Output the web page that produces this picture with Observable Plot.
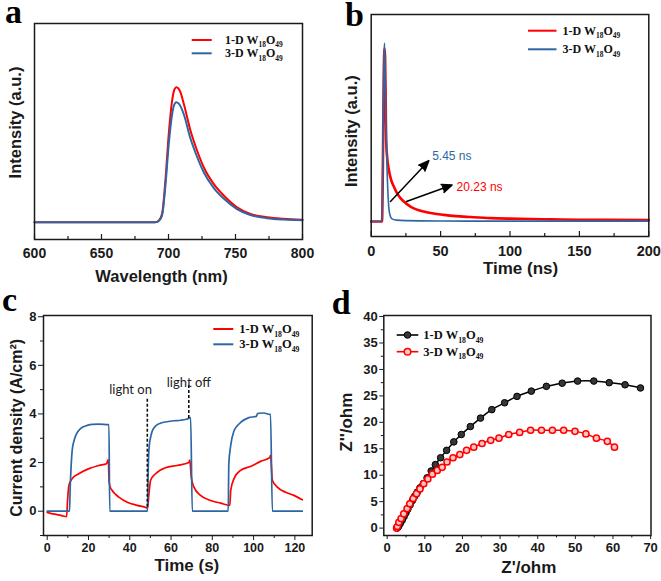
<!DOCTYPE html>
<html><head><meta charset="utf-8">
<script src="https://cdn.jsdelivr.net/npm/d3@7"></script>
<script src="https://cdn.jsdelivr.net/npm/@observablehq/plot@0.6"></script>
<style>
body{margin:0;background:#fff;}
#fig{position:relative;width:661px;height:581px;overflow:hidden;background:#fff;}
.panel{position:absolute;}
.panel svg{overflow:visible;display:block;}
</style></head><body><div id="fig"></div>
<script>
// ---------- (a) Photoluminescence spectra ----------
const wavelengths = [600, 690, 691.5, 693, 695.2, 697.7, 700.2, 702.7, 704.5, 705.9, 707.5, 708.9, 711.4, 716.4, 721.3, 726.3, 733.7, 741.2, 751.1, 761.1, 773.5, 785.9, 800];
const pl1D = [0, 0, 0.003, 0.015, 0.062, 0.31, 0.655, 0.90, 0.985, 1.0, 0.99, 0.963, 0.877, 0.679, 0.531, 0.407, 0.284, 0.198, 0.111, 0.062, 0.037, 0.025, 0.018];
const pl3D = [0, 0, 0.003, 0.012, 0.05, 0.27, 0.58, 0.80, 0.875, 0.889, 0.88, 0.86, 0.80, 0.62, 0.485, 0.37, 0.255, 0.175, 0.097, 0.053, 0.03, 0.02, 0.015];
const aTicksMajor = [600, 650, 700, 750, 800];
const aTicksMinor = [625, 675, 725, 775];

// ---------- (b) Time-resolved PL decay ----------
const trTime1D = [0, 7.8, 8.4, 9.0, 9.6, 10.0, 10.4, 10.8, 11.5, 12.7, 14.3, 16.3, 18.5, 21.1, 24.5, 28.3, 32.5, 37.9, 44, 52.3, 61, 71.5, 86, 100, 114.8, 130, 150, 170, 200];
const trInt1D = [0, 0, 0.3, 0.8, 0.97, 0.92, 0.7, 0.45, 0.36, 0.29, 0.235, 0.196, 0.16, 0.131, 0.105, 0.084, 0.068, 0.056, 0.046, 0.037, 0.03, 0.025, 0.019, 0.016, 0.014, 0.012, 0.01, 0.009, 0.008];
const trTime3D = [0, 7.6, 8.0, 8.6, 9.2, 9.6, 10.2, 10.8, 11.4, 12.0, 12.8, 13.8, 15, 18, 25, 50, 100, 150, 200];
const trInt3D = [0, 0, 0.1, 0.55, 0.92, 1.0, 0.75, 0.5, 0.3, 0.17, 0.07, 0.03, 0.015, 0.008, 0.005, 0.003, 0.002, 0.002, 0.002];
const bTicksMajor = [0, 50, 100, 150, 200];
const bTicksMinor = [25, 75, 125, 175];
const lifetimeLabels = ["5.45 ns", "20.23 ns"];
const lifetimeArrowFromT = [13.9, 25.4];
const lifetimeArrowFromI = [0.112, 0.112];
const lifetimeArrowToT = [41.5, 58.3];
const lifetimeArrowToI = [0.341, 0.205];
const lifetimeLabelT = [43.9, 61.5];
const lifetimeLabelI = [0.366, 0.195];

// ---------- (c) Photocurrent response ----------
const pcTime1D = [0, 2, 4.8, 7, 9.4, 9.9, 10.5, 12.1, 15.3, 20.2, 25.0, 28.7, 29.6, 30.0, 30.5, 31.5, 33, 34.7, 38.8, 43.6, 48.1, 48.6, 49.3, 50.1, 52.5, 57.3, 63.0, 68.6, 69.1, 69.8, 71.1, 74.3, 79.2, 84.0, 88.5, 88.9, 90.5, 93.7, 98.5, 103.4, 107.8, 108.2, 109.1, 111.5, 115.5, 119.5, 123.6];
const pcCur1D = [-0.05, -0.1, -0.14, -0.18, -0.22, 0.5, 1.06, 1.34, 1.54, 1.75, 1.88, 1.95, 2.12, 1.2, 1.0, 0.85, 0.7, 0.58, 0.37, 0.24, 0.14, 0.12, 0.72, 1.27, 1.54, 1.79, 1.88, 2.0, 2.1, 1.4, 0.99, 0.65, 0.44, 0.33, 0.24, 0.85, 1.34, 1.68, 1.84, 2.05, 2.2, 2.3, 1.27, 0.99, 0.78, 0.65, 0.47];
const pcTime3D = [0, 10.8, 11.1, 11.5, 12.1, 13.0, 14.0, 16.1, 19.4, 22, 25.0, 29.6, 29.9, 30.3, 48.6, 48.9, 49.3, 50.0, 50.9, 52.5, 54.9, 58, 61.4, 64.6, 67, 68.8, 69.5, 70.3, 87.7, 88.0, 88.9, 90.5, 92, 93.7, 97.7, 101.3, 101.8, 102.4, 105.0, 107.8, 108.2, 109.1, 123.6];
const pcCur3D = [0, 0, 0.9, 1.7, 2.5, 2.9, 3.15, 3.40, 3.53, 3.57, 3.58, 3.56, 3.56, 0, 0, 1.5, 2.55, 3.0, 3.30, 3.5, 3.62, 3.68, 3.72, 3.74, 3.77, 3.82, 3.85, 0, 0, 1.95, 2.7, 3.3, 3.5, 3.65, 3.85, 3.9, 4.0, 4.03, 4.04, 3.98, 3.98, 0, 0];
const cXTicksMajor = [0, 20, 40, 60, 80, 100, 120];
const cXTicksMinor = [10, 30, 50, 70, 90, 110];
const cYTicksMajor = [0, 2, 4, 6, 8];
const cYTicksMinor = [-1, 1, 3, 5, 7];
const lightLabels = ["light on", "light off"];
const lightTime = [48.5, 68.6];
const lightFrom = [0.16, 3.81];
const lightTo = [4.63, 5.18];
const lightLabelTime = [40.4, 68.6];
const lightLabelCur = [4.98, 5.3];

// ---------- (d) Nyquist plots ----------
const zRe1D = [2.6, 2.8, 3.1, 3.5, 4.0, 4.5, 5.0, 5.5, 6.1, 6.7, 7.3, 8.0, 8.7, 9.6, 10.6, 11.7, 12.8, 14.2, 15.8, 17.7, 19.7, 22.1, 24.8, 27.8, 31.2, 34.5, 38.3, 42.3, 46.5, 50.6, 54.9, 59.0, 63.2, 67.3];
const zIm1D = [0, 0.1, 0.4, 0.9, 1.5, 2.2, 2.9, 3.6, 4.4, 5.2, 6.0, 6.8, 7.6, 8.4, 9.5, 10.8, 12.0, 13.3, 14.7, 16.3, 17.7, 19.2, 20.8, 22.4, 23.7, 24.9, 25.9, 26.8, 27.4, 27.8, 27.8, 27.5, 27.1, 26.5];
const zRe3D = [2.5, 2.7, 3.1, 3.7, 4.4, 5.3, 6.0, 6.9, 7.8, 8.7, 9.7, 10.8, 12.0, 13.3, 14.6, 15.9, 17.5, 19.3, 21.1, 23.0, 25.2, 27.5, 29.7, 32.3, 35.2, 38.1, 41.0, 43.9, 46.9, 49.9, 52.8, 55.6, 58.5, 60.4];
const zIm3D = [0, 0.3, 1.1, 1.8, 2.7, 3.7, 4.6, 5.6, 6.5, 7.4, 8.4, 9.3, 10.2, 10.9, 11.5, 12.5, 13.3, 13.9, 14.7, 15.3, 16.0, 16.6, 17.0, 17.7, 18.1, 18.5, 18.5, 18.5, 18.5, 18.3, 17.8, 17.0, 16.4, 15.3];
const dXTicksMajor = [0, 10, 20, 30, 40, 50, 60, 70];
const dXTicksMinor = [5, 15, 25, 35, 45, 55, 65];
const dYTicksMajor = [0, 5, 10, 15, 20, 25, 30, 35, 40];
const dYTicksMinor = [2.5, 7.5, 12.5, 17.5, 22.5, 27.5, 32.5, 37.5];

const seriesNames = ["1-D", "3-D"];
const formulaParts = ["W", "18", "O", "49"];

// ---------- styling ----------
const RED = "#ff0000", BLUE = "#2c67a5", INK = "#1a1a1a";
const SANS = "'Liberation Sans', Arial, sans-serif";
const SERIF = "'Liberation Serif', 'Times New Roman', serif";
const style = () => ({fontFamily: SANS, fontWeight: "bold", color: INK, background: "transparent", overflow: "visible"});

const fig = document.getElementById("fig");
function place(svg, left, top) {
  const d = document.createElement("div");
  d.className = "panel"; d.style.left = left + "px"; d.style.top = top + "px";
  d.appendChild(svg); fig.appendChild(d);
}
function letter(svg, ch, x, y) {
  d3.select(svg).append("text").attr("x", x).attr("y", y).attr("text-anchor", "start")
    .attr("font-family", SERIF).attr("font-weight", "bold").attr("font-size", 34).attr("fill", "#000").text(ch);
}
function legend(svg, items, x1, x2, tx, fs) {
  const g = d3.select(svg).append("g").attr("text-anchor", "start");
  items.forEach(it => {
    g.append("line").attr("x1", x1).attr("x2", x2).attr("y1", it.y).attr("y2", it.y)
      .attr("stroke", it.color).attr("stroke-width", it.width || 2);
    if (it.dot) {
      g.append("circle").attr("cx", (x1 + x2) / 2).attr("cy", it.y).attr("r", 3.3)
        .attr("fill", it.dot.fill).attr("stroke", it.dot.stroke).attr("stroke-width", it.dot.sw);
    }
    const t = g.append("text").attr("x", tx).attr("y", it.y + fs * 0.33).attr("text-anchor", "start")
      .attr("font-family", SERIF).attr("font-weight", "bold").attr("font-size", fs).attr("fill", "#111");
    t.append("tspan").text(it.name + " " + formulaParts[0]);
    t.append("tspan").attr("font-size", fs * 0.62).attr("dy", fs * 0.28).text(formulaParts[1]);
    t.append("tspan").attr("dy", -fs * 0.28).text(formulaParts[2]);
    t.append("tspan").attr("font-size", fs * 0.62).attr("dy", fs * 0.28).text(formulaParts[3]);
  });
}

// ---------- panel a ----------
{
  const data = wavelengths.map((w, i) => ({w, a: pl1D[i], b: pl3D[i]}));
  const W = 330, H = 290, m = {l: 34, r: 28, t: 23, b: 51};
  const fh = H - m.t - m.b;
  const svg = Plot.plot({
    width: W, height: H, marginLeft: m.l, marginRight: m.r, marginTop: m.t, marginBottom: m.b,
    style: style(),
    x: {domain: [600, 800], label: null},
    y: {domain: [-0.128, 1.472], axis: null, label: null},
    marks: [
      Plot.line(data, {x: "w", y: "a", stroke: RED, strokeWidth: 2, curve: "monotone-x"}),
      Plot.line(data, {x: "w", y: "b", stroke: BLUE, strokeWidth: 2, curve: "monotone-x"}),
      Plot.tickX(aTicksMajor, {x: d => d, insetTop: fh - 5, stroke: INK, strokeWidth: 1.2}),
      Plot.tickX(aTicksMinor, {x: d => d, insetTop: fh - 3, stroke: INK, strokeWidth: 1.2}),
      Plot.axisX(aTicksMajor, {tickSize: 0, tickPadding: 9, fontSize: 14, label: null}),
      Plot.frame({stroke: INK, strokeWidth: 1.5}),
      Plot.text(["Wavelength (nm)"], {frameAnchor: "bottom", dy: 42, dx: -7, fontSize: 16.5, fontWeight: "bold", fill: INK}),
      Plot.text(["Intensity (a.u.)"], {frameAnchor: "left", textAnchor: "middle", rotate: -90, dx: -19, dy: -9, fontSize: 16.5, fontWeight: "bold", fill: INK})
    ]
  });
  letter(svg, "a", 5, 23);
  legend(svg, [{name: seriesNames[0], color: RED, y: 40}, {name: seriesNames[1], color: BLUE, y: 53.3}], 191.7, 211.7, 225, 12);
  place(svg, 0, 0);
}

// ---------- panel b ----------
{
  const d1 = trTime1D.map((t, i) => ({t, v: trInt1D[i]}));
  const d3D = trTime3D.map((t, i) => ({t, v: trInt3D[i]}));
  const arrows = lifetimeLabels.map((s, i) => ({s, x1: lifetimeArrowFromT[i], y1: lifetimeArrowFromI[i], x2: lifetimeArrowToT[i], y2: lifetimeArrowToI[i], lx: lifetimeLabelT[i], ly: lifetimeLabelI[i], c: i === 0 ? BLUE : RED}));
  const W = 331, H = 290, m = {l: 40.7, r: 12.7, t: 14, b: 54};
  const fh = H - m.t - m.b;
  const svg = Plot.plot({
    width: W, height: H, marginLeft: m.l, marginRight: m.r, marginTop: m.t, marginBottom: m.b,
    style: style(),
    x: {domain: [0, 200], label: null},
    y: {domain: [-0.084, 1.16], axis: null, label: null},
    marks: [
      Plot.line(d1, {x: "t", y: "v", stroke: RED, strokeWidth: 2.6, curve: "monotone-x"}),
      Plot.line(d3D, {x: "t", y: "v", stroke: BLUE, strokeWidth: 1.6, curve: "monotone-x"}),
      Plot.arrow(arrows, {x1: "x1", y1: "y1", x2: "x2", y2: "y2", stroke: "#000", fill: "#000", strokeWidth: 1.5, headLength: 11, headAngle: 45}),
      Plot.text(arrows, {x: "lx", y: "ly", text: "s", fill: "c", textAnchor: "start", fontSize: 12, fontWeight: "normal"}),
      Plot.tickX(bTicksMajor, {x: d => d, insetTop: fh - 5, stroke: INK, strokeWidth: 1.2}),
      Plot.tickX(bTicksMinor, {x: d => d, insetTop: fh - 3, stroke: INK, strokeWidth: 1.2}),
      Plot.axisX(bTicksMajor, {tickSize: 0, tickPadding: 9, fontSize: 14.5, label: null}),
      Plot.frame({stroke: INK, strokeWidth: 1.5}),
      Plot.text(["Time (ns)"], {frameAnchor: "bottom", dy: 37.5, dx: 10.5, fontSize: 17, fontWeight: "bold", fill: INK}),
      Plot.text(["Intensity (a.u.)"], {frameAnchor: "left", textAnchor: "middle", rotate: -90, dx: -19, dy: 5.7, fontSize: 16.5, fontWeight: "bold", fill: INK})
    ]
  });
  letter(svg, "b", 15, 26);
  legend(svg, [{name: seriesNames[0], color: RED, y: 30.7}, {name: seriesNames[1], color: BLUE, y: 49.3}], 198, 226.5, 232.5, 12);
  place(svg, 330, 0);
}

// ---------- panel c ----------
{
  const r = pcTime1D.map((t, i) => ({t, v: pcCur1D[i]}));
  const b = pcTime3D.map((t, i) => ({t, v: pcCur3D[i]}));
  const lights = lightLabels.map((s, i) => ({s, x: lightTime[i], y1: lightFrom[i], y2: lightTo[i], lx: lightLabelTime[i], ly: lightLabelCur[i]}));
  const W = 330, H = 291, m = {l: 43, r: 18.3, t: 25, b: 46};
  const svg = Plot.plot({
    width: W, height: H, marginLeft: m.l, marginRight: m.r, marginTop: m.t, marginBottom: m.b,
    style: style(),
    x: {domain: [-1.8, 128.4], label: null},
    y: {domain: [-1, 8.05], label: null},
    marks: [
      Plot.line(r, {x: "t", y: "v", stroke: RED, strokeWidth: 1.7, curve: "monotone-x"}),
      Plot.line(b, {x: "t", y: "v", stroke: BLUE, strokeWidth: 1.7, curve: "monotone-x"}),
      Plot.ruleX(lights, {x: "x", y1: "y1", y2: "y2", stroke: "#111", strokeWidth: 1.6, strokeDasharray: "3,2"}),
      Plot.text(lights, {x: "lx", y: "ly", text: "s", fontFamily: "Lato, 'Open Sans', sans-serif", fontWeight: "normal", fontSize: 13, fill: "#222"}),
      Plot.axisX(cXTicksMajor, {tickSize: 5, tickPadding: 2.5, fontSize: 12.5, label: null}),
      Plot.axisX(cXTicksMinor, {tickSize: 3, tickFormat: () => "", label: null}),
      Plot.axisY(cYTicksMajor, {tickSize: 5, tickPadding: 2, fontSize: 13, label: null}),
      Plot.axisY(cYTicksMinor, {tickSize: 3, tickFormat: () => "", label: null}),
      Plot.frame({stroke: INK, strokeWidth: 1.5}),
      Plot.text(["Time (s)"], {frameAnchor: "bottom", dy: 35, dx: 9, fontSize: 17, fontWeight: "bold", fill: INK}),
      Plot.text(["Current density (A/cm²)"], {frameAnchor: "left", textAnchor: "middle", rotate: -90, dx: -26.3, dy: 2.3, fontSize: 16, fontWeight: "bold", fill: INK})
    ]
  });
  letter(svg, "c", 2, 21);
  legend(svg, [{name: seriesNames[0], color: RED, y: 39}, {name: seriesNames[1], color: BLUE, y: 54.3}], 213.3, 233.3, 239.3, 12.5);
  place(svg, 0, 290);
}

// ---------- panel d ----------
{
  const k = zRe1D.map((x, i) => ({x, y: zIm1D[i]}));
  const r = zRe3D.map((x, i) => ({x, y: zIm3D[i]}));
  const W = 331, H = 291, m = {l: 53.3, r: 10.5, t: 25, b: 46};
  const dotBlack = {fill: "#363636", stroke: "#000", sw: 1};
  const dotRed = {fill: "#ffc4c4", stroke: RED, sw: 1.5};
  const svg = Plot.plot({
    width: W, height: H, marginLeft: m.l, marginRight: m.r, marginTop: m.t, marginBottom: m.b,
    style: style(),
    x: {domain: [-0.9, 70.1], label: null},
    y: {domain: [-1.4, 40.2], label: null},
    marks: [
      Plot.line(k, {x: "x", y: "y", stroke: "#000", strokeWidth: 1.5, curve: "catmull-rom"}),
      Plot.dot(k, {x: "x", y: "y", r: 3.3, fill: dotBlack.fill, stroke: dotBlack.stroke, strokeWidth: dotBlack.sw}),
      Plot.line(r, {x: "x", y: "y", stroke: RED, strokeWidth: 1.5, curve: "catmull-rom"}),
      Plot.dot(r, {x: "x", y: "y", r: 3.1, fill: dotRed.fill, stroke: dotRed.stroke, strokeWidth: dotRed.sw}),
      Plot.axisX(dXTicksMajor, {tickSize: 4, tickPadding: 3.6, fontSize: 13, label: null}),
      Plot.axisX(dXTicksMinor, {tickSize: 2.5, tickFormat: () => "", label: null}),
      Plot.axisY(dYTicksMajor, {tickSize: 4, tickPadding: 2, fontSize: 13, label: null}),
      Plot.axisY(dYTicksMinor, {tickSize: 2.5, tickFormat: () => "", label: null}),
      Plot.frame({stroke: INK, strokeWidth: 1.5}),
      Plot.text(["Z'/ohm"], {frameAnchor: "bottom", dy: 37, dx: 11.4, fontSize: 17, fontWeight: "bold", fill: INK}),
      Plot.text(["Z''/ohm"], {frameAnchor: "left", textAnchor: "middle", rotate: -90, dx: -37.3, dy: -3.3, fontSize: 17, fontWeight: "bold", fill: INK})
    ]
  });
  letter(svg, "d", 1.7, 24);
  legend(svg, [{name: seriesNames[0], color: "#000", y: 45, dot: dotBlack, width: 1.6}, {name: seriesNames[1], color: RED, y: 61.7, dot: dotRed, width: 1.6}], 66.7, 88.3, 93.3, 12.5);
  place(svg, 330, 290);
}
</script>
</body></html>
